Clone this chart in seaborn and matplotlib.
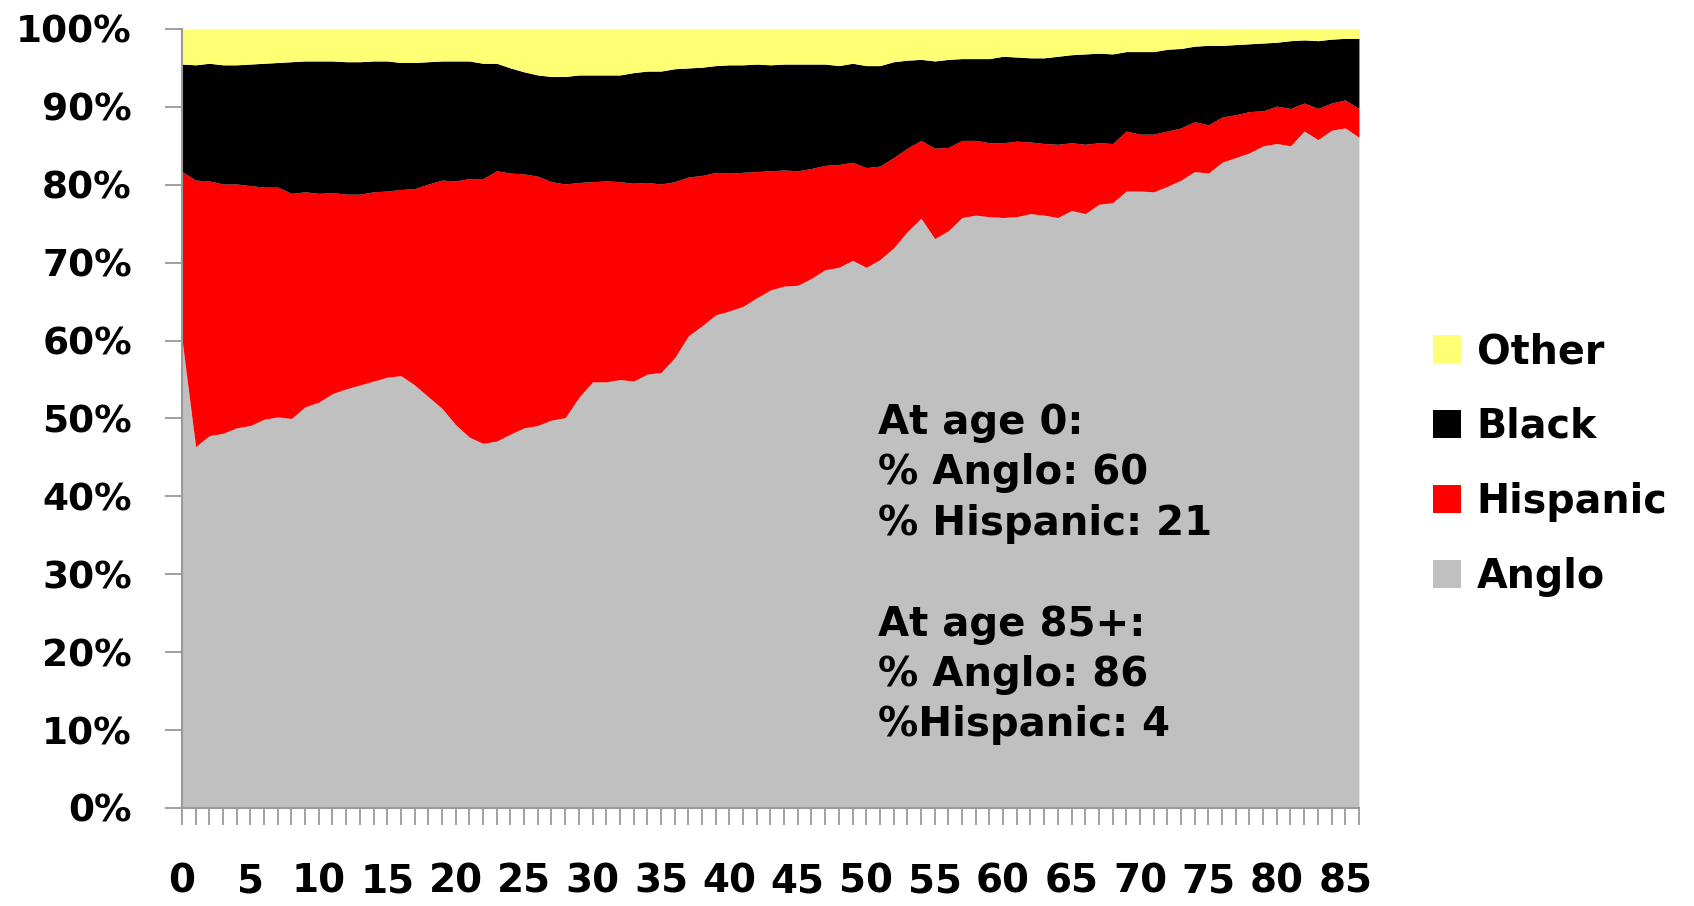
import numpy as np
import pandas as pd
import matplotlib
matplotlib.use("Agg")
import matplotlib.pyplot as plt
import seaborn as sns
from matplotlib.patches import Patch

sns.set_theme(style="white")
plt.rcParams["font.family"] = ["DejaVu Sans"]
plt.rcParams["text.color"] = "black"

# population shares (%) by single year of age, last point = 85+
ages = list(range(87))
tick_labels = [str(a) if a % 5 == 0 else "" for a in ages]

anglo = [60.2, 46.4, 47.8, 48.1, 48.8, 49.1, 49.9, 50.2, 50.0, 51.5,
         52.1, 53.2, 53.8, 54.3, 54.8, 55.3, 55.5, 54.3, 52.8, 51.3,
         49.2, 47.6, 46.8, 47.1, 48.0, 48.8, 49.1, 49.8, 50.1, 52.7,
         54.7, 54.7, 55.0, 54.8, 55.7, 55.9, 57.8, 60.6, 61.9, 63.3,
         63.8, 64.4, 65.5, 66.5, 67.0, 67.1, 68.0, 69.1, 69.4, 70.3,
         69.4, 70.4, 71.9, 74.0, 75.7, 73.1, 74.1, 75.8, 76.1, 75.9,
         75.8, 75.9, 76.3, 76.1, 75.8, 76.7, 76.3, 77.5, 77.7, 79.2,
         79.2, 79.1, 79.8, 80.6, 81.7, 81.5, 82.9, 83.5, 84.1, 85.0,
         85.3, 85.0, 86.9, 85.8, 87.0, 87.3, 86.1]
hispanic = [21.5, 34.2, 32.7, 32.0, 31.3, 30.8, 29.8, 29.5, 28.9, 27.6,
            26.8, 25.8, 25.0, 24.5, 24.3, 23.9, 23.9, 25.2, 27.3, 29.3,
            31.3, 33.2, 34.0, 34.7, 33.5, 32.6, 32.0, 30.6, 30.0, 27.6,
            25.7, 25.8, 25.4, 25.4, 24.6, 24.2, 22.6, 20.4, 19.3, 18.3,
            17.7, 17.2, 16.2, 15.3, 14.9, 14.7, 14.1, 13.4, 13.2, 12.6,
            12.8, 12.0, 11.6, 10.7, 10.0, 11.6, 10.7, 9.9, 9.6, 9.5,
            9.6, 9.7, 9.2, 9.2, 9.4, 8.7, 8.9, 7.9, 7.6, 7.7,
            7.3, 7.4, 7.1, 6.7, 6.4, 6.2, 5.8, 5.5, 5.3, 4.5,
            4.8, 4.8, 3.6, 4.0, 3.5, 3.6, 3.7]
black = [13.8, 14.8, 15.1, 15.3, 15.3, 15.6, 15.9, 16.0, 16.9, 16.8,
         17.0, 16.9, 17.0, 17.0, 16.8, 16.7, 16.3, 16.2, 15.7, 15.3,
         15.4, 15.1, 14.8, 13.8, 13.5, 13.1, 13.0, 13.5, 13.8, 13.8,
         13.7, 13.6, 13.7, 14.2, 14.3, 14.5, 14.5, 14.0, 13.9, 13.7,
         13.9, 13.8, 13.8, 13.6, 13.6, 13.7, 13.4, 13.0, 12.7, 12.7,
         13.1, 12.9, 12.3, 11.3, 10.4, 11.2, 11.3, 10.5, 10.5, 10.8,
         11.1, 10.8, 10.8, 11.0, 11.3, 11.3, 11.6, 11.5, 11.5, 10.2,
         10.6, 10.6, 10.5, 10.2, 9.7, 10.2, 9.2, 9.0, 8.7, 8.7,
         8.2, 8.7, 8.1, 8.7, 8.2, 7.9, 9.0]
other = [4.5, 4.6, 4.4, 4.6, 4.6, 4.5, 4.4, 4.3, 4.2, 4.1,
         4.1, 4.1, 4.2, 4.2, 4.1, 4.1, 4.3, 4.3, 4.2, 4.1,
         4.1, 4.1, 4.4, 4.4, 5.0, 5.5, 5.9, 6.1, 6.1, 5.9,
         5.9, 5.9, 5.9, 5.6, 5.4, 5.4, 5.1, 5.0, 4.9, 4.7,
         4.6, 4.6, 4.5, 4.6, 4.5, 4.5, 4.5, 4.5, 4.7, 4.4,
         4.7, 4.7, 4.2, 4.0, 3.9, 4.1, 3.9, 3.8, 3.8, 3.8,
         3.5, 3.6, 3.7, 3.7, 3.5, 3.3, 3.2, 3.1, 3.2, 2.9,
         2.9, 2.9, 2.6, 2.5, 2.2, 2.1, 2.1, 2.0, 1.9, 1.8,
         1.7, 1.5, 1.4, 1.5, 1.3, 1.2, 1.2]

groups = ["Anglo", "Hispanic", "Black", "Other"]
colors = {"Anglo": "#C0C0C0", "Hispanic": "#FF0000", "Black": "#000000", "Other": "#FFFF73"}

df = pd.DataFrame({"Anglo": anglo, "Hispanic": hispanic, "Black": black, "Other": other}, index=ages)
shares = df.div(df.sum(axis=1), axis=0) * 100  # 100% stacked

fig = plt.figure(figsize=(16.94, 9.06), dpi=100)
ax = fig.add_axes([0.1074, 0.1082, 0.6948, 0.8598])

ax.stackplot(shares.index, *[shares[g] for g in groups],
             colors=[colors[g] for g in groups], linewidth=0)

ax.set_xlim(0, 86)
ax.set_ylim(0, 100)
ax.set_yticks(range(0, 101, 10))
ax.set_yticklabels([f"{v}%" for v in range(0, 101, 10)], fontweight="bold")
ax.set_xticks(ages)
ax.set_xticklabels(tick_labels, fontweight="bold")

ax.tick_params(axis="x", bottom=True, length=12, width=1.3, color="#999999",
               pad=27, labelsize=28, labelcolor="black")
ax.tick_params(axis="y", left=True, length=12, width=1.3, color="#999999",
               pad=24, labelsize=27, labelcolor="black")
for side in ["top", "right"]:
    ax.spines[side].set_visible(False)
for side in ["left", "bottom"]:
    ax.spines[side].set_color("#999999")
    ax.spines[side].set_linewidth(1.5)
ax.grid(False)

handles = [Patch(facecolor=colors[g], edgecolor="none", label=g) for g in groups[::-1]]
leg = fig.legend(handles=handles, loc="center left", bbox_to_anchor=(0.846, 0.4875),
                 frameon=False, handlelength=0.7, handleheight=0.7,
                 handletextpad=0.4, labelspacing=0.88, borderpad=0, borderaxespad=0,
                 prop={"weight": "bold", "size": 28.5})
for t in leg.get_texts():
    t.set_color("black")

note = ("At age 0:\n% Anglo: 60\n% Hispanic: 21\n\n"
        "At age 85+:\n% Anglo: 86\n%Hispanic: 4")
fig.text(878 / 1694, 1 - 403 / 906, note, ha="left", va="top", color="black",
         fontsize=29, fontweight="bold", linespacing=1.335)

fig.savefig("out.png", dpi=100)
